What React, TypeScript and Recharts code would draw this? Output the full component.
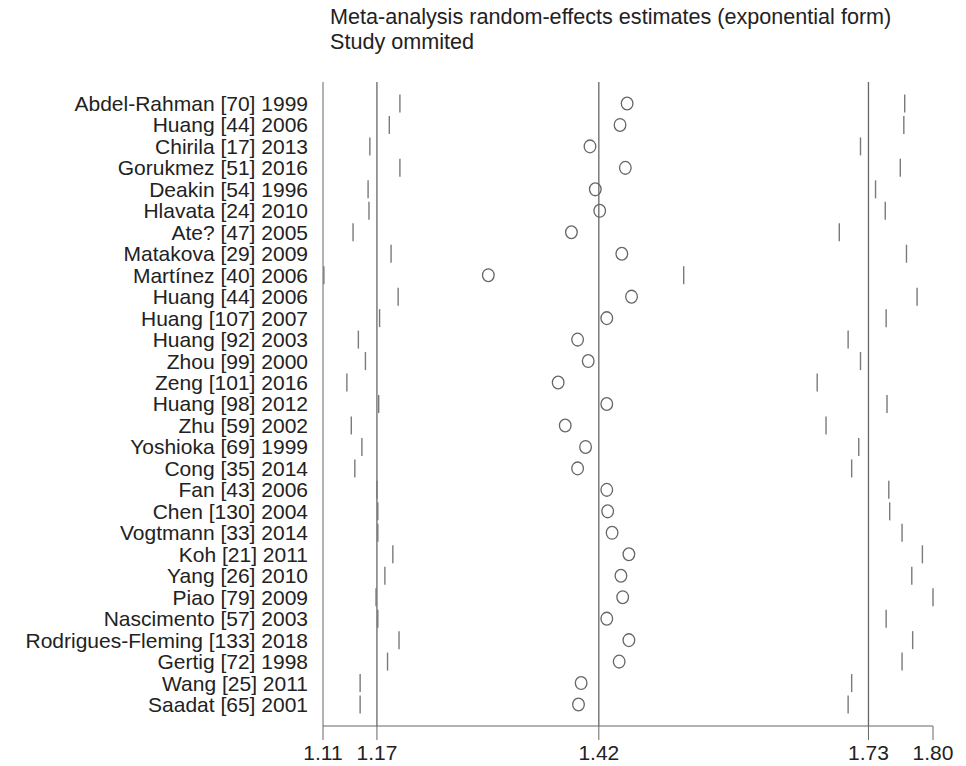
import React from 'react';
import { ScatterChart, Scatter, XAxis, YAxis, ReferenceLine } from 'recharts';

const studies = [
  'Abdel-Rahman [70] 1999', 'Huang [44] 2006', 'Chirila [17] 2013', 'Gorukmez [51] 2016',
  'Deakin [54] 1996', 'Hlavata [24] 2010', 'Ate? [47] 2005', 'Matakova [29] 2009',
  'Martínez [40] 2006', 'Huang [44] 2006', 'Huang [107] 2007', 'Huang [92] 2003',
  'Zhou [99] 2000', 'Zeng [101] 2016', 'Huang [98] 2012', 'Zhu [59] 2002',
  'Yoshioka [69] 1999', 'Cong [35] 2014', 'Fan [43] 2006', 'Chen [130] 2004',
  'Vogtmann [33] 2014', 'Koh [21] 2011', 'Yang [26] 2010', 'Piao [79] 2009',
  'Nascimento [57] 2003', 'Rodrigues-Fleming [133] 2018', 'Gertig [72] 1998',
  'Wang [25] 2011', 'Saadat [65] 2001',
];

const lowerCI = [
  1.197, 1.185, 1.163, 1.197, 1.161, 1.162, 1.144, 1.187, 1.111, 1.195,
  1.174, 1.150, 1.158, 1.137, 1.173, 1.142, 1.154, 1.146, 1.171, 1.172,
  1.172, 1.189, 1.180, 1.170, 1.172, 1.196, 1.183, 1.152, 1.152,
];

const estimate = [
  1.454, 1.446, 1.412, 1.452, 1.418, 1.423, 1.391, 1.448, 1.297, 1.459,
  1.431, 1.398, 1.410, 1.376, 1.431, 1.384, 1.407, 1.398, 1.431, 1.432,
  1.437, 1.456, 1.447, 1.449, 1.431, 1.456, 1.445, 1.402, 1.399,
];

const upperCI = [
  1.768, 1.767, 1.718, 1.763, 1.735, 1.746, 1.694, 1.770, 1.518, 1.782,
  1.747, 1.704, 1.718, 1.669, 1.748, 1.679, 1.716, 1.708, 1.750, 1.751,
  1.765, 1.788, 1.776, 1.800, 1.747, 1.777, 1.765, 1.708, 1.704,
];

// pooled estimate and its CI (drawn as vertical lines)
const pooled = [1.171, 1.422, 1.727];
const xTicks = [1.11, 1.171, 1.422, 1.727, 1.8];

const toPoints = (vals: number[]) => vals.map((v, i) => ({ x: v, y: i + 1 }));
const lowerData = toPoints(lowerCI);
const estData = toPoints(estimate);
const upperData = toPoints(upperCI);

const FONT = '"Liberation Sans", Arial, sans-serif';

const Bar = (props: any) => {
  const { cx, cy } = props;
  return <line x1={cx} x2={cx} y1={cy - 9} y2={cy + 9} stroke="#7a7a7a" strokeWidth={1.4} />;
};

const Ring = (props: any) => {
  const { cx, cy } = props;
  return <ellipse cx={cx} cy={cy} rx={5.8} ry={6.4} fill="none" stroke="#666" strokeWidth={1.3} />;
};

export default function App() {
  return (
    <div style={{ position: 'relative', width: 966, height: 766, background: '#fff', fontFamily: FONT }}>
      <style>{'body{margin:0}'}</style>
      <div style={{ position: 'absolute', left: 330, top: 4, fontSize: 21.6, color: '#222', lineHeight: '25px' }}>
        <div>Meta-analysis random-effects estimates (exponential form)</div>
        <div>Study ommited</div>
      </div>
      <ScatterChart width={966} height={766} margin={{ top: 82, right: 33, bottom: 0, left: 0 }}>
        <XAxis
          type="number"
          dataKey="x"
          domain={[1.11, 1.8]}
          ticks={xTicks}
          tickFormatter={(v: number) => v.toFixed(2)}
          height={40}
          tickSize={14}
          tickMargin={5}
          interval={0}
          stroke="#666"
          tick={{ fill: '#222', fontSize: 21, fontFamily: FONT }}
        />
        <YAxis
          type="number"
          dataKey="y"
          domain={[0, 30]}
          reversed
          ticks={studies.map((_, i) => i + 1)}
          tickFormatter={(v: number) => studies[v - 1] ?? ''}
          interval={0}
          width={323}
          tickSize={0}
          tickLine={false}
          tickMargin={15}
          stroke="#666"
          tick={{ fill: '#222', fontSize: 21, fontFamily: FONT }}
        />
        {pooled.map(v => (
          <ReferenceLine key={v} x={v} stroke="#666" strokeWidth={1.3} />
        ))}
        <Scatter data={lowerData} shape={Bar} isAnimationActive={false} />
        <Scatter data={upperData} shape={Bar} isAnimationActive={false} />
        <Scatter data={estData} shape={Ring} isAnimationActive={false} />
      </ScatterChart>
    </div>
  );
}
